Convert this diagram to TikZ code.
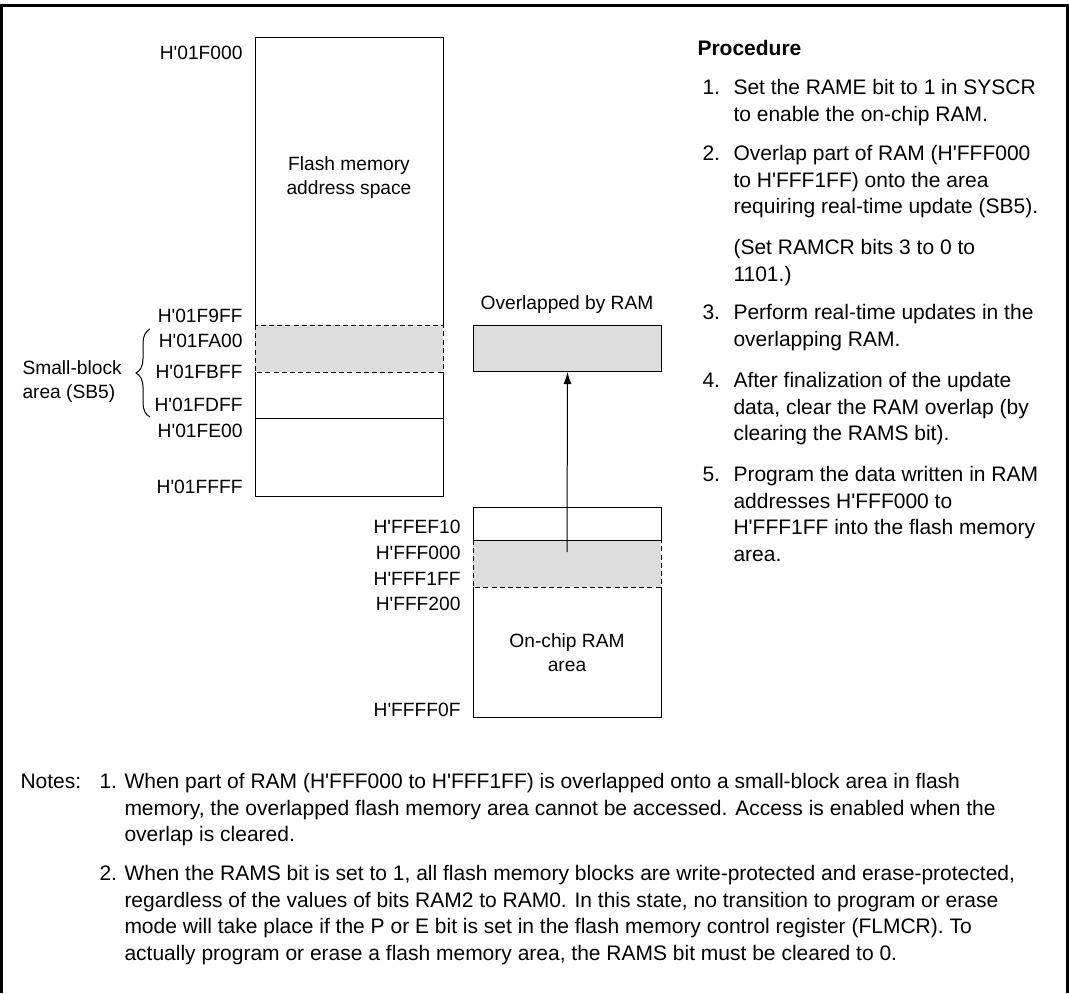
\documentclass[tikz,border=0pt]{standalone}
\usepackage{fontspec}
\newfontfamily\hwfont{Liberation Sans}
\usetikzlibrary{arrows.meta,decorations.pathreplacing}
\definecolor{ovlgray}{RGB}{221,221,221}
\tikzset{
  frame/.style={line width=1.5pt},
  addr/.style={font=\hwfont\fontsize{9.6}{12}\selectfont,inner sep=0pt},
  proc/.style={font=\hwfont\fontsize{10.5}{13.35}\selectfont,inner sep=0pt},
  dashline/.style={dash pattern=on 2.5pt off 1.6pt},
  ovlbox/.style={draw,fill=ovlgray,minimum width=94pt,minimum height=23pt,inner sep=0pt}
}
% first line of a block sits on the node's base
\newcommand{\leftlines}[1]{\begin{tabular}[t]{@{}l@{}}#1\end{tabular}}
\newcommand{\midlines}[1]{\begin{tabular}[t]{@{}c@{}}#1\end{tabular}}
\newcommand{\addrlabel}[4]{%
  \node[addr,anchor=base east] (#1) at (#2,#3) {#4};
}
\newcommand{\procitem}[4]{%
  \node[proc,anchor=base west] (#1num) at (702,#2) {#3};
  \node[proc,anchor=base west] (#1) at (733,#2) {\leftlines{#4}};
}

\begin{document}
\begin{tikzpicture}[x=.5pt,y=-.5pt,font=\hwfont,line width=.5pt]
  \useasboundingbox (0,0) rectangle (1069,993);
  \draw[frame] (1.5,993) -- (1.5,5.5) -- (1067,5.5) -- (1067,993);

  % flash memory map
  \draw (255,325) -- (255,37) -- (443,37) -- (443,325);
  \filldraw[fill=ovlgray,dashline] (255,325) rectangle (443,372);
  \draw (255,372) -- (255,496) -- (443,496) -- (443,372);
  \draw (255,418) -- (443,418);
  \node[addr,anchor=base] (flashtxt) at (349,170) {\midlines{Flash memory\\address space}};
  \addrlabel{f000}{243}{59}{H'01F000}
  \addrlabel{f9ff}{243}{322}{H'01F9FF}
  \addrlabel{fa00}{243}{347}{H'01FA00}
  \addrlabel{fbff}{243}{378}{H'01FBFF}
  \addrlabel{fdff}{243}{411}{H'01FDFF}
  \addrlabel{fe00}{243}{437}{H'01FE00}
  \addrlabel{ffff}{243}{493}{H'01FFFF}
  \draw[decorate,decoration={brace,amplitude=7pt}] (150,417) -- (150,329);
  \node[addr,anchor=base west] (sbarea) at (22,374) {\leftlines{Small-block\\area (SB5)}};

  % on-chip RAM
  \fill[ovlgray] (473,540) rectangle (661,587);
  \draw (473,540) -- (473,507) -- (661,507) -- (661,540) -- cycle;
  \draw[dashline] (473,540) -- (473,587) -- (661,587) -- (661,540);
  \draw (473,587) -- (473,717) -- (661,717) -- (661,587);
  \node[addr,anchor=base] (ramtxt) at (567,647) {\midlines{On-chip RAM\\area}};
  \addrlabel{ef10}{461}{533}{H'FFEF10}
  \addrlabel{r000}{461}{559}{H'FFF000}
  \addrlabel{r1ff}{461}{585}{H'FFF1FF}
  \addrlabel{r200}{461}{610}{H'FFF200}
  \addrlabel{ff0f}{461}{716}{H'FFFF0F}

  % overlap
  \node[ovlbox,anchor=north west] (ovl) at (473,325) {};
  \node[addr,anchor=base] (ovltxt) at (567,309) {Overlapped by RAM};
  \coordinate (ramsrc) at (567,552);
  \draw[-{Latex[length=6pt,width=4pt]}] (ramsrc) -- (ovl.south);

  % procedure
  \node[proc,anchor=base west,font=\hwfont\bfseries\fontsize{10.5}{13.35}\selectfont] (proctitle) at (697,55) {Procedure};
  \procitem{p1}{94.5}{1.}{Set the RAME bit to 1 in SYSCR\\to enable the on-chip RAM.}
  \procitem{p2}{160.5}{2.}{Overlap part of RAM (H'FFF000\\to H'FFF1FF) onto the area\\requiring real-time update (SB5).}
  \node[proc,anchor=base west] (p2b) at (733,254.5) {\leftlines{(Set RAMCR bits 3 to 0 to\\1101.)}};
  \procitem{p3}{319.5}{3.}{Perform real-time updates in the\\overlapping RAM.}
  \procitem{p4}{387.5}{4.}{After finalization of the update\\data, clear the RAM overlap (by\\clearing the RAMS bit).}
  \procitem{p5}{481.5}{5.}{Program the data written in RAM\\addresses H'FFF000 to\\H'FFF1FF into the flash memory\\area.}

  % notes
  \node[proc,anchor=base west] (notes) at (20,788.5) {Notes:};
  \node[proc,anchor=base west] (n1num) at (99,788.5) {1.};
  \node[proc,anchor=base west] (n1) at (124,788.5) {\leftlines{When part of RAM (H'FFF000 to H'FFF1FF) is overlapped onto a small-block area in flash\\memory, the overlapped flash memory area cannot be accessed. Access is enabled when the\\overlap is cleared.}};
  \node[proc,anchor=base west] (n2num) at (99,880.5) {2.};
  \node[proc,anchor=base west] (n2) at (124,880.5) {\leftlines{When the RAMS bit is set to 1, all flash memory blocks are write-protected and erase-protected,\\regardless of the values of bits RAM2 to RAM0. In this state, no transition to program or erase\\mode will take place if the P or E bit is set in the flash memory control register (FLMCR). To\\actually program or erase a flash memory area, the RAMS bit must be cleared to 0.}};
\end{tikzpicture}
\end{document}
